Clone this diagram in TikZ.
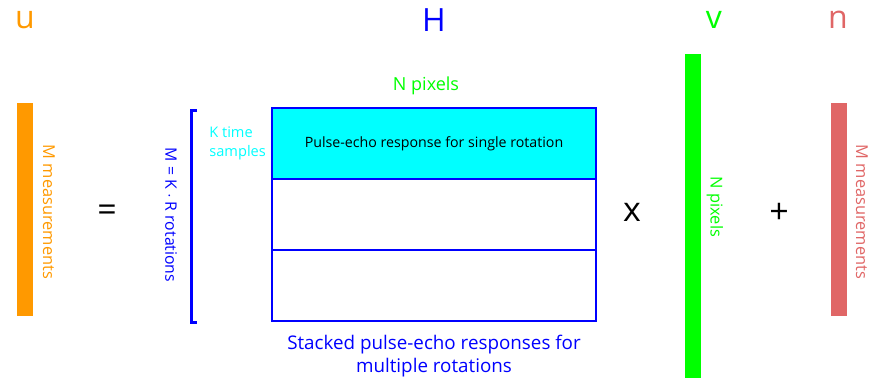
\documentclass[tikz,border=0pt]{standalone}
\usepackage{fontspec}
\setmainfont{Open Sans}
\usetikzlibrary{positioning}
\definecolor{uorange}{HTML}{FF9900}
\definecolor{hblue}{HTML}{0000FF}
\definecolor{kcyan}{HTML}{00FFFF}
\definecolor{vgreen}{HTML}{00FF00}
\definecolor{nred}{HTML}{E06666}
\tikzstyle{symbol}=[inner sep=0pt, font=\fontsize{16}{18}\selectfont]
\tikzstyle{op}=[inner sep=0pt, font=\fontsize{17}{19}\selectfont]
\tikzstyle{bar}=[draw=none, inner sep=0pt, outer sep=0pt, minimum width=8pt]
\tikzstyle{side}=[inner sep=0pt, rotate=-90, font=\fontsize{8.2}{10}\selectfont]
\tikzstyle{row}=[draw=hblue, line width=1pt, inner sep=0pt, outer sep=0pt, minimum width=162pt, minimum height=35.5pt]

\begin{document}
\begin{tikzpicture}[x=0.5pt, y=-0.5pt]
    \useasboundingbox (0,0) rectangle (869,382);
    % measurement vector
    \node[symbol, text=uorange] (u) at (25,20) {u};
    \node[bar, fill=uorange, minimum height=106.5pt] (ubar) at (25,209.5) {};
    \node[side, text=uorange] (ulab) at (49,212) {M measurements};
    \node[op] (eq) at (107,213) {=};
    % system matrix
    \node[symbol, text=hblue] (H) at (434,20) {H};
    \node[inner sep=0pt, text=vgreen, font=\fontsize{9}{11}\selectfont] (Hcols) at (426,86) {N pixels};
    \node[row, fill=kcyan, font=\fontsize{7.1}{8}\selectfont] (r1) at (434,143.5) {Pulse-echo response for single rotation};
    \node[row, below=0pt of r1] (r2) {};
    \node[row, below=0pt of r2] (r3) {};
    \node[inner sep=0pt, align=left, anchor=north west, text=kcyan, font=\fontsize{7.3}{9.6}\selectfont] (K) at (209,126) {K time\\samples};
    \coordinate (btop) at (197,110);
    \coordinate (bbot) at (197,322);
    \draw[hblue, line width=1.5pt] (btop) -- ++(-6,0) |- (bbot);
    \node[side, text=hblue, font=\fontsize{7.9}{10}\selectfont] (Mrot) at (171,215) {M = K $\cdot$ R rotations};
    \node[inner sep=0pt, align=center, text=hblue, font=\fontsize{9.4}{11.6}\selectfont, below=7pt of r3] (stack) {Stacked pulse-echo responses for\\multiple rotations};
    \node[op] (times) at (632,212) {x};
    % image vector
    \node[symbol, text=vgreen] (v) at (714,20) {v};
    \node[bar, fill=vgreen, minimum height=162pt] (vbar) at (692.5,216) {};
    \node[side, text=vgreen] (vlab) at (715,207) {N pixels};
    \node[op] (plus) at (779,213) {+};
    % noise vector
    \node[symbol, text=nred] (n) at (838,20) {n};
    \node[bar, fill=nred, minimum height=106.5pt] (nbar) at (839,209.5) {};
    \node[side, text=nred] (nlab) at (862,212) {M measurements};
\end{tikzpicture}
\end{document}
